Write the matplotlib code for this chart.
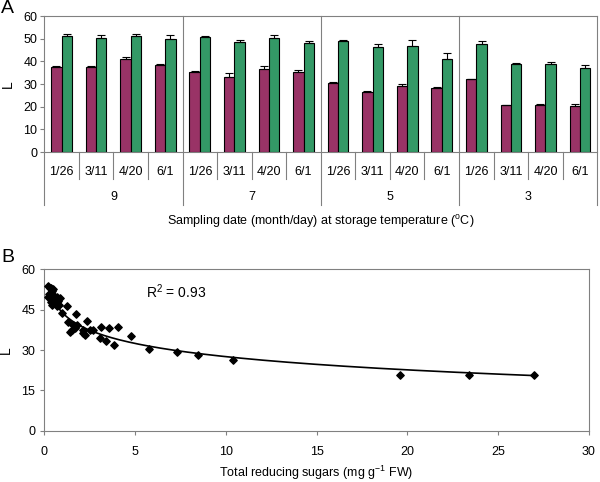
import numpy as np
import matplotlib.pyplot as plt
import matplotlib.transforms as mtransforms

plt.rcParams['font.family'] = ['Liberation Sans', 'DejaVu Sans']

# Panel A data
dates = ['1/26', '3/11', '4/20', '6/1']
temps = ['9', '7', '5', '3']
purple = [37.6, 37.6, 41.0, 38.5, 35.4, 33.0, 36.6, 35.4,
          30.4, 26.3, 29.2, 28.2, 32.0, 20.8, 20.8, 20.5]
purple_err = [0.3, 0.2, 1.0, 0.3, 0.3, 2.0, 1.5, 1.0,
              0.7, 0.6, 0.6, 0.7, 0.2, 0.1, 0.3, 0.5]
green = [51.2, 50.4, 51.2, 50.0, 50.7, 48.5, 50.4, 47.9,
         49.0, 46.2, 46.9, 40.9, 47.8, 38.9, 38.9, 36.9]
green_err = [1.0, 1.0, 1.0, 1.5, 0.5, 0.7, 1.0, 1.2,
             0.2, 1.5, 2.4, 2.7, 1.0, 0.5, 0.6, 1.5]

# Panel B data
sugars = [0.22, 0.30, 0.35, 0.42, 0.50, 0.22, 0.31, 0.40, 0.50, 0.59,
          0.45, 0.68, 0.77, 0.86, 0.72, 0.83, 0.28, 0.55, 0.62, 0.38,
          0.95, 1.24, 1.33, 1.42, 1.50, 1.60, 1.74, 1.82, 1.70, 2.11,
          2.15, 2.24, 2.36, 2.52, 2.66, 3.07, 3.11, 3.40, 3.58, 3.84,
          4.08, 4.78, 5.79, 7.30, 8.49, 10.38, 19.6, 23.4, 27.0]
lvals = [53.8, 53.0, 52.9, 52.0, 52.6, 49.8, 49.2, 50.8, 48.6, 47.4,
         46.7, 49.8, 48.3, 49.2, 46.3, 46.7, 51.0, 50.2, 48.0, 47.8,
         43.6, 46.5, 40.5, 36.8, 37.6, 39.3, 43.4, 39.3, 38.0, 37.4,
         36.2, 35.6, 40.8, 37.6, 37.4, 34.3, 38.6, 33.3, 38.0, 31.8,
         38.6, 35.2, 30.4, 29.4, 28.2, 26.3, 20.6, 20.7, 20.6]

c_purple = '#993366'
c_green = '#339966'
gray = '#808080'

fig = plt.figure(figsize=(6, 4.82), dpi=100)

# ---------------- Panel A ----------------
ax = fig.add_axes([0.0738, 0.6846, 0.9217, 0.2822])
x = np.arange(len(purple))
w = 0.3
ax.bar(x - w / 2, purple, w, color=c_purple, edgecolor='black', linewidth=0.8, zorder=3)
ax.bar(x + w / 2, green, w, color=c_green, edgecolor='black', linewidth=0.8, zorder=3)
ax.errorbar(x - w / 2, purple, yerr=[np.zeros(len(purple)), purple_err], fmt='none',
            ecolor='black', elinewidth=0.8, capsize=3, capthick=0.8, zorder=4)
ax.errorbar(x + w / 2, green, yerr=[np.zeros(len(green)), green_err], fmt='none',
            ecolor='black', elinewidth=0.8, capsize=3, capthick=0.8, zorder=4)

ax.set_xlim(-0.5, len(purple) - 0.5)
ax.set_ylim(0, 60)
ax.set_yticks(range(0, 61, 10))
ax.set_xticks([])
ax.tick_params(axis='y', direction='out', length=3, labelsize=9, color=gray, pad=2)
for s in ax.spines.values():
    s.set_color(gray)
    s.set_linewidth(0.8)
ax.spines['left'].set_visible(False)
ax.spines['right'].set_visible(False)
ax.set_ylabel('L', fontsize=10, labelpad=6)

trans = mtransforms.blended_transform_factory(ax.transData, ax.transAxes)
# group separators (full height and down through labels)
for b in [-0.5, 3.5, 7.5, 11.5, 15.5]:
    ax.plot([b, b], [1, -0.39], color=gray, linewidth=0.8, transform=trans, clip_on=False, zorder=5)
# date separators below the axis
for i in range(len(purple) - 1):
    if (i + 1) % 4 != 0:
        ax.plot([i + 0.5, i + 0.5], [0, -0.2], color=gray, linewidth=0.8,
                transform=trans, clip_on=False)
for i in range(len(purple)):
    ax.text(i, -0.145, dates[i % 4], transform=trans, ha='center', va='center', fontsize=9)
for g, t in enumerate(temps):
    ax.text(g * 4 + 1.5, -0.33, t, transform=trans, ha='center', va='center', fontsize=9)
ax.text(0.5, -0.51, 'Sampling date (month/day) at storage temperature ($^{\\mathregular{o}}$C)',
        transform=ax.transAxes, ha='center', va='center', fontsize=9)

# ---------------- Panel B ----------------
bx = fig.add_axes([0.0738, 0.1064, 0.9078, 0.3349])
bx.scatter(sugars, lvals, marker='D', s=14, color='black', zorder=3)
coef = np.polyfit(np.log(sugars), lvals, 1)
xf = np.linspace(min(sugars), max(sugars), 200)
bx.plot(xf, coef[0] * np.log(xf) + coef[1], color='black', linewidth=1.2)
bx.set_xlim(0, 30)
bx.set_ylim(0, 60)
bx.set_xticks(range(0, 31, 5))
bx.set_yticks(range(0, 61, 15))
bx.tick_params(direction='out', length=3, labelsize=9, color=gray)
bx.tick_params(axis='x', pad=8)
for s in bx.spines.values():
    s.set_color(gray)
    s.set_linewidth(0.8)
bx.text(5.6, 51.5, 'R$^{\\mathregular{2}}$ = 0.93', ha='left', va='center', fontsize=10)
bx.set_ylabel('L', fontsize=10, labelpad=6)
fig.text(0.5277, 0.0095, 'Total reducing sugars (mg g$^{\\mathregular{-1}}$ FW)',
         ha='center', va='baseline', fontsize=9)

fig.text(0.002, 0.999, 'A', ha='left', va='top', fontsize=14)
fig.text(0.002, 0.483, 'B', ha='left', va='top', fontsize=14)

fig.savefig('out.png', dpi=100)
